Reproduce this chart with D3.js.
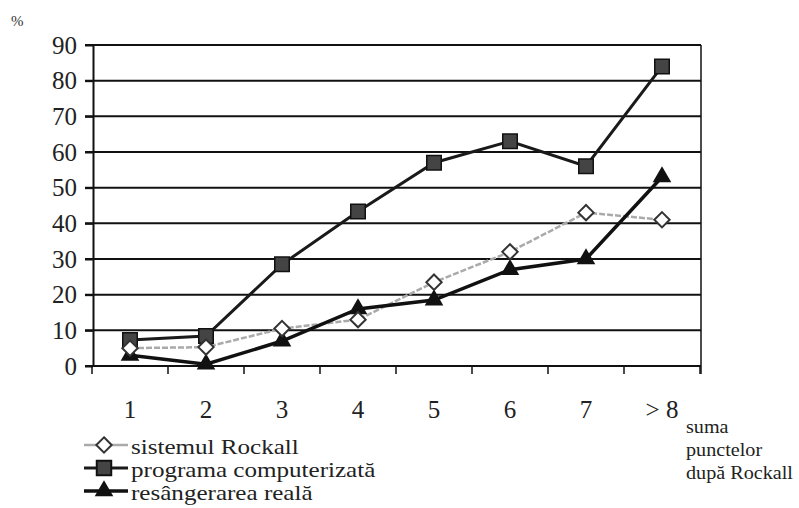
<!DOCTYPE html>
<html>
<head>
<meta charset="utf-8">
<script src="https://cdn.jsdelivr.net/npm/d3@7"></script>
<style>
  body { margin: 0; background: #fff; }
  svg { font-family: "Liberation Serif", "DejaVu Serif", serif; }
</style>
</head>
<body>
<svg id="drawing_region"></svg>
<script>
// categories and series
const categories = ['1', '2', '3', '4', '5', '6', '7', '> 8']
const yTicks = [0, 10, 20, 30, 40, 50, 60, 70, 80, 90]
const rockall = [5, 5.3, 10.5, 13, 23.5, 32, 43, 41]
const programa = [7.3, 8.4, 28.5, 43.3, 57, 63, 56, 84]
const resangerare = [3, 0.5, 7, 16, 18.5, 27, 30, 53]
const seriesNames = ['sistemul Rockall', 'programa computerizată', 'resângerarea reală']
const axisTitle = ['suma', 'punctelor', 'după Rockall']

const width = 799, height = 508
const svg = d3.select('#drawing_region').attr('width', width).attr('height', height)

const x = d3.scaleBand().domain(categories).range([92, 700])
const y = d3.scaleLinear().domain([0, 90]).range([366, 45])
const cx = d => x(d) + x.bandwidth() / 2
const left = 93, right = 701

// horizontal grid lines
svg.append('g').selectAll('line').data(yTicks).enter().append('line')
  .attr('x1', left - 8).attr('x2', right)
  .attr('y1', d => y(d)).attr('y2', d => y(d))
  .attr('stroke', '#111').attr('stroke-width', 2)

// right border
svg.append('line')
  .attr('x1', right).attr('x2', right).attr('y1', y(90)).attr('y2', y(0) + 8)
  .attr('stroke', '#111').attr('stroke-width', 1.5)

// y axis
const yaxis = d3.axisLeft(y).tickValues(yTicks).tickSize(8).tickSizeOuter(0)
const yg = svg.append('g').attr('transform', `translate(${left},0)`).call(yaxis)
yg.select('.domain').attr('stroke', '#111').attr('stroke-width', 2)
yg.selectAll('.tick line').attr('stroke', '#111').attr('stroke-width', 2)
yg.selectAll('.tick text').attr('font-family', '"Liberation Serif", serif')
  .attr('font-size', 25).attr('fill', '#222').attr('x', -16)

// x axis: ticks at category boundaries
const xg = svg.append('g').attr('transform', `translate(0,${y(0)})`)
xg.append('line').attr('x1', left).attr('x2', right).attr('stroke', '#111').attr('stroke-width', 2)
xg.selectAll('.bt').data(d3.range(categories.length + 1)).enter().append('line')
  .attr('class', 'bt')
  .attr('x1', i => 92 + i * x.step()).attr('x2', i => 92 + i * x.step())
  .attr('y1', 0).attr('y2', 8)
  .attr('stroke', '#111').attr('stroke-width', 1.5)
xg.selectAll('text').data(categories).enter().append('text')
  .attr('x', d => cx(d)).attr('y', 52)
  .attr('text-anchor', 'middle').attr('font-size', 25).attr('fill', '#222')
  .text(d => d)

svg.append('text').attr('x', 11).attr('y', 26).attr('font-size', 15).attr('fill', '#333').text('%')

// axis title
svg.append('g').selectAll('text').data(axisTitle).enter().append('text')
  .attr('x', 0).attr('y', 0)
  .attr('transform', (d, i) => `translate(686,${433 + i * 23}) scale(1.12,1)`)
  .attr('font-size', 18).attr('fill', '#222')
  .text(d => d)

const line = d3.line().x((d, i) => cx(categories[i])).y(d => y(d))

const diamond = d3.symbol().type(d3.symbolDiamond2).size(150)
const square = d3.symbol().type(d3.symbolSquare).size(210)
const triangle = d3.symbol().type(d3.symbolTriangle).size(150)

// sistemul Rockall
svg.append('path').attr('d', line(rockall))
  .attr('fill', 'none').attr('stroke', '#aaa').attr('stroke-width', 2.5).attr('stroke-dasharray', '6,2')
// programa computerizată
svg.append('path').attr('d', line(programa))
  .attr('fill', 'none').attr('stroke', '#1a1a1a').attr('stroke-width', 3)
// resângerarea reală
svg.append('path').attr('d', line(resangerare))
  .attr('fill', 'none').attr('stroke', '#111').attr('stroke-width', 3.5)

svg.append('g').selectAll('path').data(programa).enter().append('path')
  .attr('d', square)
  .attr('transform', (d, i) => `translate(${cx(categories[i])},${y(d)})`)
  .attr('fill', '#444').attr('stroke', '#111').attr('stroke-width', 1.5)

svg.append('g').selectAll('path').data(resangerare).enter().append('path')
  .attr('d', triangle)
  .attr('transform', (d, i) => `translate(${cx(categories[i])},${y(d)})`)
  .attr('fill', '#111')

svg.append('g').selectAll('path').data(rockall).enter().append('path')
  .attr('d', diamond)
  .attr('transform', (d, i) => `translate(${cx(categories[i])},${y(d)})`)
  .attr('fill', '#fff').attr('stroke', '#333').attr('stroke-width', 2)

// legend
const legend = svg.append('g')
const styles = [
  {stroke: '#aaa', w: 2.5, sym: diamond, fill: '#fff', sstroke: '#333'},
  {stroke: '#1a1a1a', w: 3, sym: square, fill: '#444', sstroke: '#111'},
  {stroke: '#111', w: 3.5, sym: triangle, fill: '#111', sstroke: 'none'}
]
seriesNames.forEach((name, i) => {
  const base = 454 + i * 23
  const ly = base - 9
  const st = styles[i]
  legend.append('line').attr('x1', 84).attr('x2', 128).attr('y1', ly).attr('y2', ly)
    .attr('stroke', st.stroke).attr('stroke-width', st.w)
  legend.append('path').attr('d', st.sym)
    .attr('transform', `translate(104,${ly})`)
    .attr('fill', st.fill).attr('stroke', st.sstroke).attr('stroke-width', 2)
  legend.append('text').attr('x', 0).attr('y', 0)
    .attr('transform', `translate(131,${base}) scale(1.14,1)`)
    .attr('font-size', 22).attr('fill', '#222').text(name)
})
</script>
</body>
</html>
